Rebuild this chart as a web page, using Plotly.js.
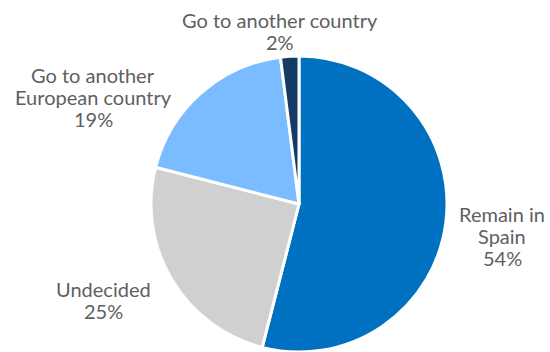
<!DOCTYPE html>
<html>
<head>
<meta charset="utf-8">
<script src="https://cdn.plot.ly/plotly-3.0.1.min.js"></script>
<style>html,body{margin:0;padding:0;background:#fff;}#chart{width:550px;height:352px;}</style>
</head>
<body>
<div id="chart"></div>
<script>
const categories = ["Remain in Spain", "Undecided", "Go to another European country", "Go to another country"];
const labelLines = [["Remain in", "Spain"], ["Undecided"], ["Go to another", "European country"], ["Go to another country"]];
const values = [54, 25, 19, 2];
const colors = ["#0070C0", "#D0D0D0", "#7ABCFF", "#163A66"];

const W = 550, H = 352;
const labelPos = [[502, 236], [103, 300], [93, 97], [280, 31]];
const lineGap = 22;
const total = values.reduce((a, b) => a + b, 0);

const annotations = [];
categories.forEach((c, i) => {
  const lines = labelLines[i].concat([Math.round(values[i] / total * 100) + '%']);
  const n = lines.length;
  lines.forEach((t, j) => {
    const yPix = labelPos[i][1] + (j - (n - 1) / 2) * lineGap;
    annotations.push({
      x: labelPos[i][0] / W,
      y: 1 - yPix / H,
      xref: 'paper', yref: 'paper',
      xanchor: 'center', yanchor: 'middle',
      text: t,
      showarrow: false,
      font: {family: 'Lato, "Open Sans", sans-serif', size: 20, color: '#606060'}
    });
  });
});

Plotly.newPlot('chart', [{
  type: 'pie',
  labels: categories,
  values: values,
  sort: false,
  direction: 'clockwise',
  rotation: 0,
  textinfo: 'none',
  hoverinfo: 'label+percent',
  marker: {colors: colors, line: {color: '#ffffff', width: 3}},
  domain: {x: [150 / W, 448 / W], y: [0, 1 - 56 / H]}
}], {
  width: W, height: H,
  margin: {l: 0, r: 0, t: 0, b: 0},
  showlegend: false,
  paper_bgcolor: '#ffffff',
  annotations: annotations
}, {displayModeBar: false, staticPlot: true});
</script>
</body>
</html>
